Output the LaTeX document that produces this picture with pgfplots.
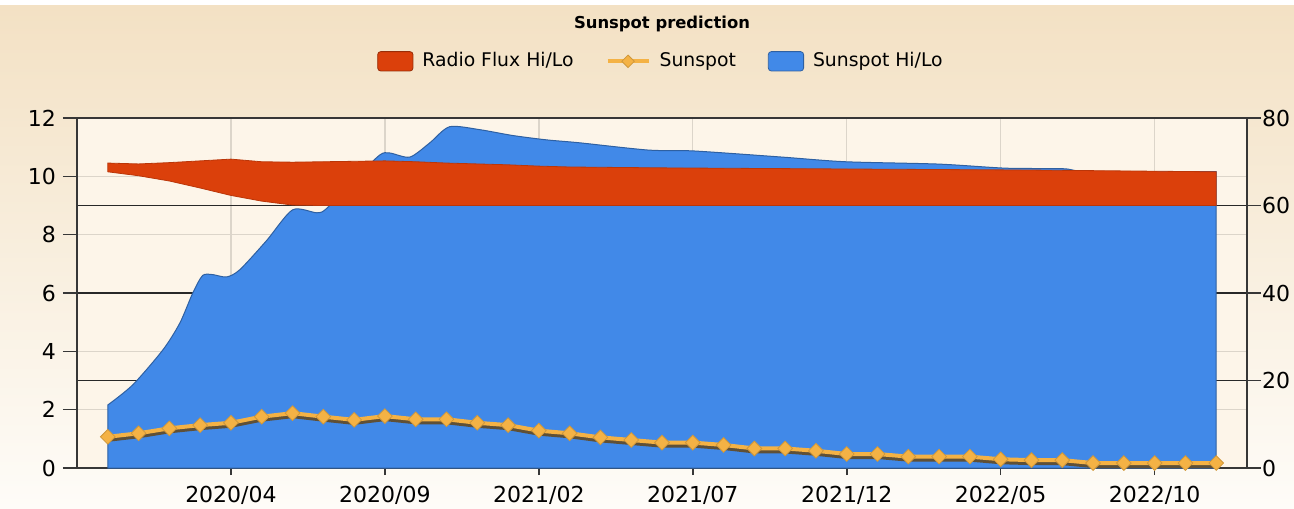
\documentclass[border=0pt]{standalone}
\usepackage{fontspec}
\setmainfont{DejaVu Sans}
\usepackage{pgfplots}
\pgfplotsset{compat=1.18}
\definecolor{sblue}{RGB}{65,137,232}
\definecolor{rflux}{RGB}{219,64,11}
\definecolor{sun}{RGB}{244,178,69}
\definecolor{shadowc}{RGB}{95,80,55}
\definecolor{plotbg}{RGB}{253,245,233}
\definecolor{bgtop}{RGB}{243,225,196}
\definecolor{bgbot}{RGB}{254,252,248}
\definecolor{darkgrid}{RGB}{40,40,40}
\definecolor{lightgrid}{RGB}{220,213,202}
\definecolor{axisc}{RGB}{55,55,55}

% Sunspot Hi/Lo upper edge (left axis units)
\pgfplotstableread{
x y
0 2.16
0.81 2.85
1.79 4.05
2.34 4.97
2.76 6.0
3.08 6.6
3.41 6.63
3.86 6.55
4.29 6.8
5.16 7.8
6.0 8.85
6.79 8.75
7.11 8.9
8.02 9.9
8.83 10.73
9.16 10.8
9.81 10.66
10.45 11.14
11.1 11.7
12.08 11.6
13.15 11.4
14.25 11.25
15.32 11.15
17.56 10.9
19.03 10.87
21.9 10.66
23.96 10.5
26.98 10.42
29.16 10.28
31.04 10.26
31.9 10.16
36 10.16
}\sunhilo

% Radio Flux Hi (forward) then Lo (backward), right axis units
\pgfplotstableread{
x y
0 69.7
1 69.5
2 69.8
3 70.2
4 70.6
5 70.0
6 69.9
7 70.0
8 70.1
9 70.2
10 70.0
11 69.7
12 69.5
13 69.3
14 69.0
15 68.8
18 68.6
25 68.3
30 68.1
36 67.7
36 60.0
7 60.0
6 60.1
5 61.0
4 62.3
3 64.0
2 65.6
1 66.8
0 67.7
}\fluxband

\pgfplotstableread{
x y
0 1.07
1 1.19
2 1.36
3 1.47
4 1.55
5 1.76
6 1.88
7 1.76
8 1.65
9 1.78
10 1.67
11 1.67
12 1.55
13 1.47
14 1.28
15 1.19
16 1.05
17 0.96
18 0.87
19 0.87
20 0.79
21 0.67
22 0.67
23 0.59
24 0.48
25 0.48
26 0.39
27 0.39
28 0.39
29 0.30
30 0.27
31 0.27
32 0.17
33 0.17
34 0.17
35 0.17
36 0.17
}\sunspot

\begin{document}
\begin{tikzpicture}
\fill[white] (-38.5pt,-20pt) rectangle (608.5pt,234pt);
\shade[top color=bgtop, bottom color=bgbot] (-38.5pt,-20pt) rectangle (608.5pt,231pt);

% Layer A: background, grids, x axis, blue area
\begin{axis}[
  at={(0,0)}, anchor=south west, scale only axis,
  width=585pt, height=175pt,
  xmin=-1, xmax=37, ymin=0, ymax=12,
  axis background/.style={fill=plotbg},
  xtick={4,9,14,19,24,29,34},
  xticklabels={2020/04,2020/09,2021/02,2021/07,2021/12,2022/05,2022/10},
  xtick pos=bottom, tick align=outside, major tick length=3.5pt,
  x tick style={axisc, line width=0.8pt},
  ytick={2,4,8,10}, yticklabels={}, y tick style={draw=none},
  xmajorgrids, ymajorgrids,
  major grid style={lightgrid, line width=0.7pt},
  extra y ticks={3,6,9}, extra y tick labels={},
  extra y tick style={grid=major, major grid style={darkgrid, line width=0.9pt}, tick style={draw=none}},
  axis line style={axisc, line width=0.9pt},
  ticklabel style={font=\fontsize{11}{13}\selectfont},
  xticklabel style={yshift=-2pt},
]
\addplot[fill=sblue, draw=sblue!70!black, line width=0.5pt, smooth, tension=0.45] table {\sunhilo} \closedcycle;
\end{axis}

% Layer B: right axis, radio flux band
\begin{axis}[
  at={(0,0)}, anchor=south west, scale only axis,
  width=585pt, height=175pt,
  xmin=-1, xmax=37, ymin=0, ymax=80,
  axis y line*=right, axis x line=none,
  ytick={0,20,40,60,80},
  tick align=outside, major tick length=7pt,
  y tick style={axisc, line width=0.8pt},
  axis line style={axisc, line width=0.9pt},
  ticklabel style={font=\fontsize{11}{13}\selectfont},
  yticklabel style={xshift=-3pt},
  /pgf/number format/assume math mode=true,
]
\addplot[fill=rflux, draw=rflux!85!black, line width=0.4pt] table {\fluxband} -- cycle;
\end{axis}

% Layer C: left axis, sunspot line, title, legend
\begin{axis}[
  at={(0,0)}, anchor=south west, scale only axis,
  width=585pt, height=175pt,
  xmin=-1, xmax=37, ymin=0, ymax=12,
  axis y line*=left, axis x line=none,
  ytick={0,2,4,6,8,10,12},
  tick align=outside, major tick length=7pt,
  y tick style={axisc, line width=0.8pt},
  axis line style={axisc, line width=0.9pt},
  ticklabel style={font=\fontsize{11}{13}\selectfont},
  /pgf/number format/assume math mode=true,
  title={Sunspot prediction},
  title style={at={(0.5,1.233)}, anchor=center, font=\fontsize{8.2}{9}\selectfont\bfseries},
  legend columns=3,
  legend style={draw=none, fill=none, at={(0.5,1.162)}, anchor=center,
    font=\fontsize{9.4}{11}\selectfont,
    /tikz/every odd column/.append style={column sep=2.5pt},
    /tikz/every even column/.append style={column sep=14pt}},
  legend cell align=left,
]
\addlegendimage{legend image code/.code={\draw[fill=rflux, draw=rflux!70!black, rounded corners=1.5pt] (0cm,-0.17cm) rectangle (0.62cm,0.17cm);}}
\addlegendentry{Radio Flux Hi/Lo}
\addplot[shadowc, line width=2pt, yshift=-1.5pt, forget plot] table {\sunspot};
\addplot[sun, line width=2pt, mark=square*, mark size=2.6pt,
  mark options={fill=sun, draw=sun!85!black, line width=0.4pt, rotate=45},
  legend image code/.code={\draw[sun, line width=2pt, mark=square*, mark size=2.2pt, mark options={fill=sun, draw=sun!85!black, line width=0.4pt, rotate=45}, mark repeat=2, mark phase=2] plot coordinates {(0cm,0cm) (0.36cm,0cm) (0.72cm,0cm)};}
  ] table {\sunspot};
\addlegendentry{Sunspot}
\addlegendimage{legend image code/.code={\draw[fill=sblue, draw=sblue!70!black, rounded corners=1.5pt] (0cm,-0.17cm) rectangle (0.62cm,0.17cm);}}
\addlegendentry{Sunspot Hi/Lo}
\end{axis}
\pgfresetboundingbox
\path[use as bounding box] (-38.5pt,-20pt) rectangle (608.5pt,234pt);
\end{tikzpicture}
\end{document}
